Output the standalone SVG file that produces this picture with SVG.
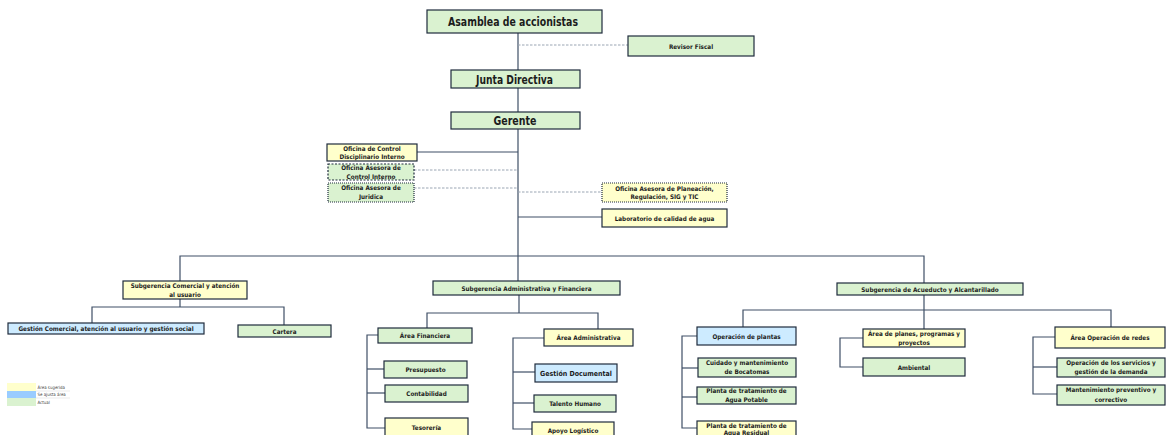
<svg xmlns="http://www.w3.org/2000/svg" width="1166" height="435" viewBox="0 0 1166 435">
<style>
text{font-family:"Liberation Sans Narrow","DejaVu Sans Condensed","Liberation Sans",sans-serif;font-weight:bold;fill:#1c1c1c;text-anchor:middle}
.n rect{stroke:#1f2b3c;stroke-width:1.2}
.y{fill:#FFFFCC}.g{fill:#DAF2D0}.b{fill:#CDEBFF}
.dash{stroke-dasharray:2 1.5}
.dot{stroke-dasharray:1 1}
.t{font-size:6.3px}
.big{font-size:13px}
.mid{font-size:12px}
#connectors line,#connectors polyline{fill:none;stroke:#3f4f66;stroke-width:1.2}
#connectors .ds{stroke:#9aa5b3;stroke-dasharray:2.5 1.5;stroke-width:1}
.lg{font-size:4.4px;text-anchor:start;font-weight:normal;fill:#444}
</style>
<rect width="1166" height="435" fill="#fff"/>
<g id="connectors">
<line x1="518" y1="33" x2="518" y2="70"/>
<line x1="518" y1="88" x2="518" y2="112"/>
<line x1="518" y1="129" x2="518" y2="281"/>
<line class="ds" x1="518" y1="45" x2="628" y2="45"/>
<line x1="417" y1="152" x2="518" y2="152"/>
<line class="ds" x1="414" y1="170" x2="518" y2="170"/>
<line class="ds" x1="414" y1="188" x2="518" y2="188"/>
<line class="ds" x1="518" y1="192" x2="602" y2="192"/>
<line x1="518" y1="217" x2="602" y2="217"/>
<polyline points="180,281 180,256 924,256 924,283"/>
<line x1="180" y1="299" x2="180" y2="307"/>
<polyline points="92,323 92,307 284,307 284,325"/>
<line x1="519" y1="295" x2="519" y2="313"/>
<polyline points="427,328 427,313 598,313 598,329"/>
<polyline points="378,335 367,335 367,428 385,428"/>
<line x1="367" y1="369" x2="384" y2="369"/>
<line x1="367" y1="393" x2="385" y2="393"/>
<polyline points="544,338 513,338 513,429 532,429"/>
<line x1="513" y1="372" x2="535" y2="372"/>
<line x1="513" y1="403" x2="534" y2="403"/>
<line x1="924" y1="295" x2="924" y2="329"/>
<polyline points="743,327 743,310 1111,310 1111,327"/>
<polyline points="697,336 682,336 682,428 697,428"/>
<line x1="682" y1="368" x2="698" y2="368"/>
<line x1="682" y1="397" x2="697" y2="397"/>
<polyline points="863,338 840,338 840,367 863,367"/>
<polyline points="1055,337 1033,337 1033,394 1057,394"/>
<line x1="1033" y1="367" x2="1057" y2="367"/>
</g>
<g id="asamblea" class="n"><rect class="g" x="427" y="10" width="175" height="23"/><text class="big" x="513" y="26" textLength="130" lengthAdjust="spacingAndGlyphs">Asamblea de accionistas</text></g>
<g id="revisor" class="n"><rect class="g" x="628" y="36" width="126" height="20"/><text class="t" x="691" y="48.5">Revisor Fiscal</text></g>
<g id="junta" class="n"><rect class="g" x="451" y="70" width="129" height="18"/><text class="mid" x="514.5" y="83.5" textLength="77" lengthAdjust="spacingAndGlyphs">Junta Directiva</text></g>
<g id="gerente" class="n"><rect class="g" x="451" y="112" width="129" height="17"/><text class="mid" x="515" y="125" textLength="43" lengthAdjust="spacingAndGlyphs">Gerente</text></g>
<g id="ocdi" class="n"><rect class="y" x="327" y="144" width="90" height="17"/><text class="t" x="372" y="150.5">Oficina de Control</text><text class="t" x="372" y="159">Disciplinario Interno</text></g>
<g id="oaci" class="n"><rect class="g dash" x="328" y="164" width="86" height="16"/><text class="t" x="371" y="170">Oficina Asesora de</text><text class="t" x="371" y="178.5">Control Interno</text></g>
<g id="oaj" class="n"><rect class="g dot" x="328" y="183" width="86" height="19"/><text class="t" x="371" y="189.5">Oficina Asesora de</text><text class="t" x="371" y="199">Juridica</text></g>
<g id="oap" class="n"><rect class="y dot" x="602" y="183" width="125" height="19"/><text class="t" x="664.5" y="190.5">Oficina Asesora de Planeación,</text><text class="t" x="664.5" y="199">Regulación, SIG y TIC</text></g>
<g id="lab" class="n"><rect class="y" x="602" y="209" width="125" height="18"/><text class="t" x="664.5" y="220.5">Laboratorio de calidad de agua</text></g>
<g id="subcom" class="n"><rect class="y" x="123" y="281" width="124" height="18"/><text class="t" x="185" y="288">Subgerencia  Comercial y atención</text><text class="t" x="185" y="297">al usuario</text></g>
<g id="gestcom" class="n"><rect class="b" x="8" y="323" width="196" height="11"/><text class="t" x="106" y="331">Gestión Comercial, atención al usuario y gestión social</text></g>
<g id="cartera" class="n"><rect class="g" x="238" y="325" width="93" height="12"/><text class="t" x="284.5" y="333.5">Cartera</text></g>
<g id="subadm" class="n"><rect class="g" x="433" y="281" width="187" height="14"/><text class="t" x="526.5" y="290.5">Subgerencia Administrativa y Financiera</text></g>
<g id="areafin" class="n"><rect class="g" x="378" y="328" width="94" height="15"/><text class="t" x="425" y="338">Área Financiera</text></g>
<g id="areaadm" class="n"><rect class="y" x="544" y="329" width="89" height="17"/><text class="t" x="588.5" y="340">Área Administrativa</text></g>
<g id="presup" class="n"><rect class="g" x="384" y="361" width="83" height="17"/><text class="t" x="425.5" y="372">Presupuesto</text></g>
<g id="contab" class="n"><rect class="g" x="385" y="385" width="83" height="17"/><text class="t" x="426.5" y="396">Contabilidad</text></g>
<g id="tesor" class="n"><rect class="y" x="385" y="418" width="83" height="20"/><text class="t" x="426.5" y="429.5">Tesorería</text></g>
<g id="gestdoc" class="n"><rect class="b" x="535" y="364" width="82" height="18"/><text class="t" x="576" y="375.5" style="font-size:7px">Gestión Documental</text></g>
<g id="talento" class="n"><rect class="g" x="534" y="395" width="82" height="17"/><text class="t" x="575" y="406">Talento Humano</text></g>
<g id="apoyo" class="n"><rect class="y" x="532" y="422" width="82" height="20"/><text class="t" x="573" y="433">Apoyo Logístico</text></g>
<g id="subacu" class="n"><rect class="g" x="837" y="283" width="186" height="12"/><text class="t" x="930" y="291.5">Subgerencia de Acueducto y Alcantarillado</text></g>
<g id="opplantas" class="n"><rect class="b" x="697" y="327" width="99" height="18"/><text class="t" x="746.5" y="338.5">Operación de plantas</text></g>
<g id="cuidado" class="n"><rect class="g" x="698" y="358" width="98" height="19"/><text class="t" x="747" y="364.5">Cuidado y mantenimiento</text><text class="t" x="747" y="374">de Bocatomas</text></g>
<g id="potable" class="n"><rect class="g" x="697" y="387" width="99" height="17"/><text class="t" x="746.5" y="392.5">Planta de tratamiento de</text><text class="t" x="746.5" y="401.5">Agua Potable</text></g>
<g id="residual" class="n"><rect class="y" x="697" y="421" width="99" height="20"/><text class="t" x="746.5" y="427.5">Planta de tratamiento de</text><text class="t" x="746.5" y="434.5">Agua Residual</text></g>
<g id="planes" class="n"><rect class="y" x="863" y="329" width="102" height="18"/><text class="t" x="914" y="335.5">Área de planes, programas y</text><text class="t" x="914" y="344.5">proyectos</text></g>
<g id="ambiental" class="n"><rect class="g" x="863" y="358" width="102" height="18"/><text class="t" x="914" y="369.5">Ambiental</text></g>
<g id="redes" class="n"><rect class="y" x="1055" y="327" width="110" height="21"/><text class="t" x="1110" y="340">Área Operación de redes</text></g>
<g id="opserv" class="n"><rect class="g" x="1057" y="358" width="108" height="19"/><text class="t" x="1111" y="364.5">Operación de los servicios y</text><text class="t" x="1111" y="374">gestión de la demanda</text></g>
<g id="mant" class="n"><rect class="g" x="1057" y="385" width="108" height="20"/><text class="t" x="1111" y="392">Mantenimiento preventivo y</text><text class="t" x="1111" y="401.5">correctivo</text></g>
<g id="legend">
<rect x="7" y="383" width="29" height="8" fill="#FFFFCC"/>
<rect x="7" y="391" width="29" height="7" fill="#99CCFF"/>
<rect x="7" y="398" width="29" height="8" fill="#DAF2D0"/>
<line x1="36" y1="391" x2="70" y2="391" stroke="#ddd" stroke-width="0.6"/>
<line x1="36" y1="398" x2="70" y2="398" stroke="#ddd" stroke-width="0.6"/>
<text class="lg" x="37.5" y="389">Área sugerida</text>
<text class="lg" x="37.5" y="396">Se ajusta área</text>
<text class="lg" x="37.5" y="403.5">Actual</text>
</g>
</svg>
